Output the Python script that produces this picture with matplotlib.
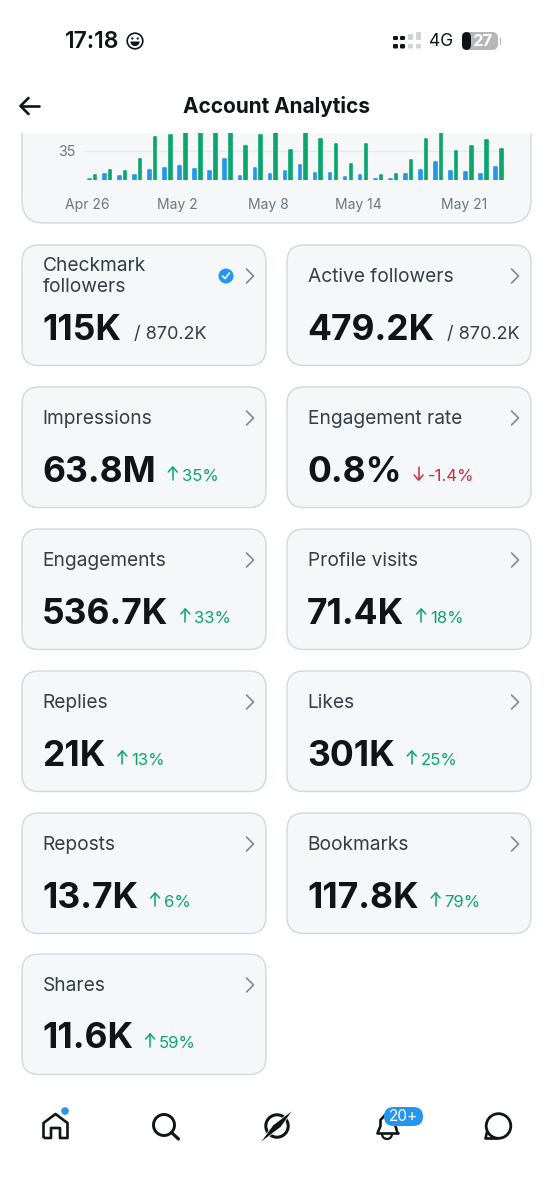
#
# plot.py
#
# Account analytics phone screen: clipped daily bar chart + metric cards
#

import matplotlib
matplotlib.use("Agg")
import matplotlib.pyplot as plt
from matplotlib.patches import FancyBboxPatch, Rectangle, Circle, Wedge, PathPatch, Arc, Polygon
from matplotlib.path import Path

plt.rcParams['font.family'] = ['Inter', 'DejaVu Sans']

# bar chart values (the tall green ones run off the top)
blue_vals = [0.8, 7, 4.5, 6.5, 12, 14, 17, 13, 11, 25, 4.5, 14, 7, 11, 18, 8, 8.5, 4, 6.5, 0.8, 0.8, 7, 12, 21, 11, 9.5, 7, 15]
green_vals = [6.5, 12, 11, 25, 51, 53, 62, 60, 65, 60, 40, 53, 60, 36, 62, 49, 43, 19, 43, 6.5, 7, 24, 49, 60, 35, 40, 47, 37]
day_ticks = [0, 6, 12, 18, 25]
day_labels = ['Apr 26', 'May 2', 'May 8', 'May 14', 'May 21']

# cards
card_titles = ['Checkmark\nfollowers', 'Active followers', 'Impressions', 'Engagement rate',
               'Engagements', 'Profile visits', 'Replies', 'Likes',
               'Reposts', 'Bookmarks', 'Shares']
card_values = ['115K', '479.2K', '63.8M', '0.8%', '536.7K', '71.4K', '21K', '301K', '13.7K', '117.8K', '11.6K']
card_deltas = [None, None, '35%', '-1.4%', '33%', '18%', '13%', '25%', '6%', '79%', '59%']
card_totals = ['/ 870.2K', '/ 870.2K', None, None, None, None, None, None, None, None, None]

INK = '#0f1419'
LABEL = '#323e4a'
GREY = '#6c7680'
GREEN = '#0aa66e'
BLUE = '#2596ee'
RED = '#cf2a3f'
CARD = '#f5f7f8'
EDGE = '#cfd9de'

col_x = [22, 287]
row_y = [245, 387, 529, 671, 813, 954]
card_w = 244
card_h = 120.5

fig = plt.figure(figsize=(5.53, 12), dpi=100)
ui = fig.add_axes([0, 0, 1, 1], zorder=1)
ui.set_xlim(0, 553)
ui.set_ylim(1200, 0)
ui.axis('off')


def line(xs, ys, color=INK, lw=1.5, z=5):
    ui.plot(xs, ys, color=color, lw=lw, solid_capstyle='round', solid_joinstyle='round', zorder=z)


def card(x, y, w, h, r=17):
    ui.add_patch(FancyBboxPatch((x + r, y + r), w - 2 * r, h - 2 * r,
                                boxstyle="round,pad=%d,rounding_size=%d" % (r, r),
                                fc=CARD, ec=EDGE, lw=1.0, zorder=1))


def chevron(x, y):
    line([x, x + 7, x], [y - 7, y, y + 7], color='#7d8b97', lw=1.2)


# chart card, its top is hidden behind the header
card(22, 60, 509, 163, r=22)
ui.add_patch(Rectangle((0, 0), 553, 133, fc='white', ec='none', zorder=2))

# status bar
ui.text(65, 42, '17:18', fontsize=16.5, fontweight='semibold', color=INK, va='center', ha='left', zorder=5)
ui.add_patch(Circle((135, 41), 7.8, fc='white', ec=INK, lw=1.2, zorder=5))
ui.add_patch(Circle((132.3, 38.5), 1.1, fc=INK, ec='none', zorder=6))
ui.add_patch(Circle((137.7, 38.5), 1.1, fc=INK, ec='none', zorder=6))
ui.add_patch(Wedge((135, 41.5), 4.6, 0, 180, fc=INK, ec='none', zorder=6))
for sx, top, c in [(393, 36, INK), (400, 36, INK), (408, 34, '#d2d2d2'), (416, 32, '#d2d2d2')]:
    ui.add_patch(FancyBboxPatch((sx, top), 5, 40 - top, boxstyle="round,pad=0,rounding_size=1.2",
                                fc=c, ec='none', zorder=5))
    ui.add_patch(FancyBboxPatch((sx, 44), 5, 4.5, boxstyle="round,pad=0,rounding_size=1.2",
                                fc=c, ec='none', zorder=5))
ui.text(429, 41.5, '4G', fontsize=12.5, color=INK, va='center', ha='left', zorder=5)
ui.add_patch(FancyBboxPatch((462, 32), 36, 18, boxstyle="round,pad=0,rounding_size=6",
                            fc='#b7b7b7', ec='none', zorder=5))
ui.add_patch(FancyBboxPatch((462, 32), 9, 18, boxstyle="round,pad=0,rounding_size=5",
                            fc=INK, ec='none', zorder=6))
ui.text(482, 41, '27', fontsize=12, fontweight='bold', color='white', va='center', ha='center', zorder=7)
ui.add_patch(Rectangle((499.5, 37.5), 1.5, 7, fc='#b7b7b7', ec='none', zorder=5))

# header
line([21, 39], [106, 106], lw=1.9)
line([28.5, 20.5, 28.5], [98, 106, 114], lw=1.9)
ui.text(276.5, 106.5, 'Account Analytics', fontsize=15, fontweight='bold', color=INK, va='center', ha='center', zorder=5)

# metric cards
fig.canvas.draw()
rend = fig.canvas.get_renderer()
for i in range(len(card_titles)):
    x = col_x[i % 2]
    y = row_y[i // 2]
    card(x, y, card_w, card_h)
    chevron(x + 224.5, y + 31)
    if '\n' in card_titles[i]:
        ui.text(x + 20.5, y + 21, card_titles[i].split('\n')[0], fontsize=13.8, color=LABEL, va='center', zorder=5)
        ui.text(x + 20.5, y + 42, card_titles[i].split('\n')[1], fontsize=13.8, color=LABEL, va='center', zorder=5)
    else:
        ui.text(x + 20.5, y + 32, card_titles[i], fontsize=13.8, color=LABEL, va='center', zorder=5)
    vt = ui.text(x + 20, y + 94.5, card_values[i], fontsize=25.5, fontweight='bold', color=INK,
                 va='baseline', zorder=5)
    right = ui.transData.inverted().transform(vt.get_window_extent(rend))[1][0]
    if card_totals[i] is not None:
        ui.text(right + 13, y + 94, card_totals[i], fontsize=13, color='#333d47', va='baseline', zorder=5)
    if card_deltas[i] is not None:
        down = card_deltas[i].startswith('-')
        c = RED if down else GREEN
        ax0 = right + 17
        line([ax0, ax0], [y + 80, y + 93], color=c, lw=1.1)
        if down:
            line([ax0 - 4.5, ax0, ax0 + 4.5], [y + 88, y + 93, y + 88], color=c, lw=1.1)
        else:
            line([ax0 - 4.5, ax0, ax0 + 4.5], [y + 85, y + 80, y + 85], color=c, lw=1.1)
        ui.text(ax0 + 9, y + 94, card_deltas[i], fontsize=12, color=c, va='baseline', zorder=5)

# verified badge
ui.add_patch(Circle((226, 276), 7.5, fc=BLUE, ec='none', zorder=5))
line([222.5, 225, 229.5], [276, 278.5, 273], color='white', lw=1.2, z=6)

# bottom nav
# home
house = Path([(43.5, 1138), (43.5, 1123), (55.5, 1114), (67.5, 1123), (67.5, 1138), (60, 1138), (60, 1128),
              (51, 1128), (51, 1138), (43.5, 1138)])
ui.add_patch(PathPatch(house, fc='none', ec=INK, lw=1.9, joinstyle='round', zorder=5))
ui.add_patch(Circle((65, 1111), 3.8, fc=BLUE, ec='none', zorder=6))
# search
ui.add_patch(Circle((164, 1125), 10.5, fc='none', ec=INK, lw=2.1, zorder=5))
line([171.5, 178.5], [1132.5, 1139], lw=2.3)
# compass thing
ui.add_patch(Circle((277, 1126), 11.2, fc='none', ec=INK, lw=2.2, zorder=5))
ui.add_patch(Polygon([(260, 1143), (273, 1125), (293, 1110), (281, 1127)], closed=True,
                     fc=INK, ec='white', lw=0.5, zorder=6))
# bell
ui.add_patch(PathPatch(Path([(377.5, 1133), (380.5, 1126), (380.5, 1120), (386, 1114), (392, 1112)]),
                       fc='none', ec=INK, lw=1.9, zorder=5))
line([395.5, 397.5], [1126, 1133], lw=1.9)
line([377, 398], [1133, 1133], lw=1.9)
ui.add_patch(Arc((387, 1134), 10, 10, theta1=0, theta2=180, color=INK, lw=1.6, zorder=5))
ui.add_patch(FancyBboxPatch((384, 1107), 39, 19, boxstyle="round,pad=0,rounding_size=9.5",
                            fc=BLUE, ec='none', zorder=6))
ui.text(403, 1116.5, '20+', fontsize=11, color='white', va='center', ha='center', zorder=7)
# bubble
ui.add_patch(Circle((498.5, 1126), 12.3, fc='none', ec=INK, lw=2, zorder=5))
line([487, 485.5, 497], [1132, 1138.5, 1138.5], lw=1.9)

# chart, pixels mapped so the bars land where they do in the picture
L, R, T, B = 80, 510, 133, 180
chart = fig.add_axes([L / 553, 1 - B / 1200, (R - L) / 553, (B - T) / 1200], zorder=2)
chart.patch.set_alpha(0)
chart.set_xlim((L - 89.3) / 15.05, (R - 89.3) / 15.05)
chart.set_ylim(0, 55.8)
for s in chart.spines.values():
    s.set_visible(False)
days = list(range(len(blue_vals)))
chart.axhline(35, xmin=0.01, xmax=0.98, color='#e6eaec', lw=1, zorder=1)
chart.bar(days, blue_vals, width=0.17, color=BLUE, edgecolor=BLUE, lw=1.2, joinstyle='round', zorder=3)
chart.bar([d + 0.38 for d in days], green_vals, width=0.17, color=GREEN, edgecolor=GREEN, lw=1.2,
          joinstyle='round', zorder=3)
chart.set_yticks([35])
chart.set_yticklabels(['35'], fontsize=10.2, color=GREY)
chart.set_xticks([d - 0.12 for d in day_ticks])
chart.set_xticklabels(day_labels, fontsize=10, color=GREY)
chart.tick_params(axis='both', length=0)
chart.tick_params(axis='x', pad=13)
chart.tick_params(axis='y', pad=3.5)

plt.savefig('out.png', dpi=100)
